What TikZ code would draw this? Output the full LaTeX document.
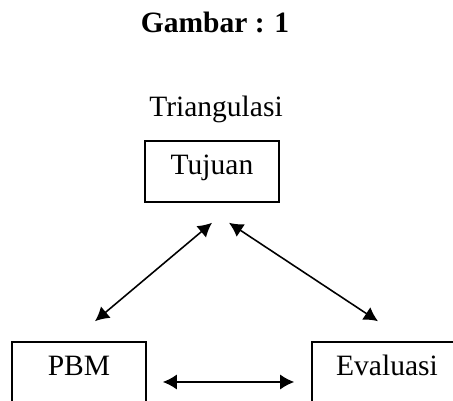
\documentclass[tikz,border=0pt]{standalone}
\usepackage{fontspec}
\setmainfont{Liberation Serif}
\usetikzlibrary{arrows.meta, calc, positioning}
\tikzset{
  % box around each part
  kotak/.style={
    draw,
    line width=0.9pt,
    minimum height=1.22cm,
    text height=0.65em,
    text depth=0.35em,
    inner sep=0pt
  },
  % two-headed arrow style
  garr/.style={
    line width=0.9pt,
    {Latex[length=2.8mm,width=3mm]}-{Latex[length=2.8mm,width=3mm]}
  },
}

\begin{document}
\begin{tikzpicture}[x=0.02cm, y=-0.02cm, font=\fontsize{16.8}{20}\selectfont]
  \useasboundingbox (0,0) rectangle (453,401);
  \clip (0,0) rectangle (453,401);

  \node[font=\fontsize{16.8}{20}\selectfont\bfseries, anchor=base] (judul) at (215,33) {Gambar : 1};
  \node[anchor=base] (tri) at (216,117) {Triangulasi};

  \node[kotak, minimum width=2.68cm] (tujuan) at (212,171.5) {Tujuan};
  \node[kotak, minimum width=2.68cm] (pbm) at (79,372.5) {PBM};   % bottom left
  \node[kotak, minimum width=3cm] (eval) at (387,372.5) {Evaluasi}; % bottom right

  \draw[garr] ([xshift=0.32cm,yshift=0.4cm]pbm.north) -- ([yshift=-0.4cm]tujuan.south);
  \draw[garr] ([xshift=0.34cm,yshift=-0.4cm]tujuan.south) -- ([xshift=-0.18cm,yshift=0.4cm]eval.north);
  \draw[garr] ([xshift=0.32cm,yshift=-0.19cm]pbm.east) -- ([xshift=-0.34cm,yshift=-0.19cm]eval.west);
\end{tikzpicture}
\end{document}
